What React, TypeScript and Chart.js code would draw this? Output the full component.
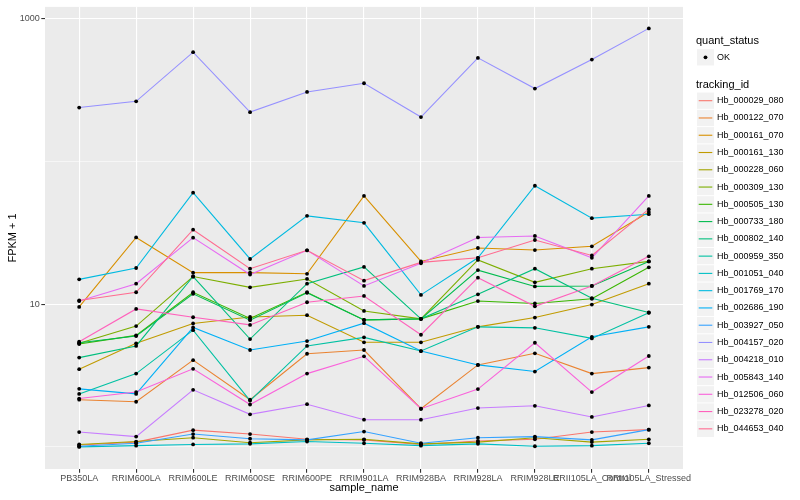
import React, { useEffect, useRef } from 'react';
import { Chart, registerables } from 'chart.js';

Chart.register(...registerables);

const sampleNames = [
  'PB350LA', 'RRIM600LA', 'RRIM600LE', 'RRIM600SE', 'RRIM600PE', 'RRIM901LA',
  'RRIM928BA', 'RRIM928LA', 'RRIM928LE', 'RRII105LA_Control', 'RRII105LA_Stressed',
];

const trackingIds = [
  'Hb_000029_080', 'Hb_000122_070', 'Hb_000161_070', 'Hb_000161_130', 'Hb_000228_060',
  'Hb_000309_130', 'Hb_000505_130', 'Hb_000733_180', 'Hb_000802_140', 'Hb_000959_350',
  'Hb_001051_040', 'Hb_001769_170', 'Hb_002686_190', 'Hb_003927_050', 'Hb_004157_020',
  'Hb_004218_010', 'Hb_005843_140', 'Hb_012506_060', 'Hb_023278_020', 'Hb_044653_040',
];

const lineColors = [
  '#F8766D', '#EA8331', '#D89000', '#C09B00', '#A3A500',
  '#7CAE00', '#39B600', '#00BB4E', '#00BF7D', '#00C1A3',
  '#00BFC4', '#00BAE0', '#00B0F6', '#35A2FF', '#9590FF',
  '#C77CFF', '#E76BF3', '#FA62DB', '#FF62BC', '#FF6C91',
];

// FPKM + 1 values per tracking id, in sampleNames order
const hb_000029_080 = [1.03, 1.08, 1.31, 1.23, 1.13, 1.12, 1.04, 1.10, 1.13, 1.27, 1.32];
const hb_000122_070 = [2.14, 2.07, 4.05, 2.14, 4.49, 4.77, 1.85, 3.75, 4.52, 3.26, 3.59];
const hb_000161_070 = [9.55, 29.3, 16.6, 16.6, 16.3, 57.2, 19.9, 24.7, 23.9, 25.4, 44.2];
const hb_000161_130 = [3.50, 5.31, 7.32, 8.13, 8.36, 5.40, 5.40, 6.93, 8.05, 9.92, 13.9];
const hb_000228_060 = [1.04, 1.09, 1.16, 1.07, 1.12, 1.13, 1.05, 1.08, 1.16, 1.08, 1.13];
const hb_000309_130 = [5.31, 7.01, 15.6, 13.1, 15.0, 8.95, 7.88, 20.4, 14.2, 17.7, 19.9];
const hb_000505_130 = [5.25, 6.04, 12.1, 7.93, 12.1, 7.75, 7.88, 10.5, 10.1, 10.9, 18.1];
const hb_000733_180 = [5.36, 5.97, 11.8, 7.71, 12.0, 7.75, 7.88, 17.3, 13.3, 13.4, 19.9];
const hb_000802_140 = [4.22, 5.09, 15.6, 5.69, 13.9, 18.2, 7.88, 11.7, 17.7, 11.0, 8.73];
const hb_000959_350 = [2.35, 3.26, 6.57, 2.11, 5.09, 5.85, 4.69, 6.93, 6.82, 5.75, 8.70];
const hb_001051_040 = [1.00, 1.02, 1.04, 1.05, 1.09, 1.06, 1.02, 1.05, 1.01, 1.02, 1.06];
const hb_001769_170 = [14.9, 17.9, 60.3, 20.7, 41.5, 37.1, 11.6, 21.1, 67.4, 40.0, 42.6];
const hb_002686_190 = [2.55, 2.35, 6.86, 4.77, 5.51, 7.35, 4.69, 3.75, 3.37, 5.90, 6.93];
const hb_003927_050 = [1.01, 1.06, 1.23, 1.14, 1.12, 1.28, 1.06, 1.16, 1.18, 1.12, 1.32];
const hb_004157_020 = [238, 263, 581, 221, 306, 352, 204, 530, 323, 516, 853];
const hb_004218_010 = [1.27, 1.18, 2.51, 1.69, 1.99, 1.55, 1.55, 1.87, 1.94, 1.62, 1.95];
const hb_005843_140 = [10.5, 13.9, 29.2, 16.1, 23.8, 13.4, 19.3, 29.3, 30.0, 21.1, 57.2];
const hb_012506_060 = [2.18, 2.42, 3.52, 1.98, 3.26, 4.31, 1.85, 2.54, 5.36, 2.42, 4.33];
const hb_023278_020 = [5.45, 9.25, 8.09, 7.15, 10.3, 11.4, 6.10, 15.3, 9.65, 13.4, 21.6];
const hb_044653_040 = [10.6, 12.1, 33.2, 17.7, 23.8, 14.6, 19.6, 21.1, 28.1, 21.9, 46.2];

const seriesValues = [
  hb_000029_080, hb_000122_070, hb_000161_070, hb_000161_130, hb_000228_060,
  hb_000309_130, hb_000505_130, hb_000733_180, hb_000802_140, hb_000959_350,
  hb_001051_040, hb_001769_170, hb_002686_190, hb_003927_050, hb_004157_020,
  hb_004218_010, hb_005843_140, hb_012506_060, hb_023278_020, hb_044653_040,
];

const quantStatus = ['OK'];
const yGridValues = [1, 10, 100, 1000];
const yLabelValues = [10, 1000];

const FONT = '"Liberation Sans", Arial, Helvetica, sans-serif';

const panelPlugin = {
  id: 'ggPanel',
  beforeDraw(chart: any) {
    const { ctx, chartArea } = chart;
    ctx.save();
    ctx.fillStyle = '#EBEBEB';
    ctx.fillRect(chartArea.left, chartArea.top, chartArea.right - chartArea.left, chartArea.bottom - chartArea.top);
    ctx.restore();
  },
};

const legendPlugin = {
  id: 'ggLegend',
  afterDraw(chart: any) {
    const ctx = chart.ctx;
    const keyX = 697;
    const keyW = 17;
    const keyH = 17.27;
    const textX = 717;
    ctx.save();
    ctx.textAlign = 'left';
    ctx.textBaseline = 'middle';
    ctx.fillStyle = '#000000';
    ctx.font = `11px ${FONT}`;
    ctx.fillText('quant_status', 696, 41);
    const okY = 57.3;
    ctx.fillStyle = '#F2F2F2';
    ctx.fillRect(keyX, okY - keyH / 2 + 0.5, keyW, keyH - 1);
    ctx.fillStyle = '#000000';
    ctx.beginPath();
    ctx.arc(keyX + keyW / 2, okY, 1.9, 0, Math.PI * 2);
    ctx.fill();
    ctx.font = `9px ${FONT}`;
    ctx.fillText(quantStatus[0], textX, okY);
    ctx.font = `11px ${FONT}`;
    ctx.fillText('tracking_id', 696, 84.5);
    trackingIds.forEach((id, i) => {
      const cy = 100.7 + i * keyH;
      ctx.fillStyle = '#F2F2F2';
      ctx.fillRect(keyX, cy - keyH / 2 + 0.5, keyW, keyH - 1);
      ctx.strokeStyle = lineColors[i];
      ctx.lineWidth = 1.1;
      ctx.beginPath();
      ctx.moveTo(keyX + 1.7, cy);
      ctx.lineTo(keyX + keyW - 1.7, cy);
      ctx.stroke();
      ctx.fillStyle = '#000000';
      ctx.font = `9px ${FONT}`;
      ctx.fillText(id, textX, cy);
    });
    ctx.restore();
  },
};

export default function App() {
  const canvasRef = useRef<HTMLCanvasElement | null>(null);

  useEffect(() => {
    if (!canvasRef.current) return;
    const lineDatasets = trackingIds.map((id, i) => ({
      label: id,
      data: seriesValues[i].map((v, j) => ({ x: j, y: v })),
      borderColor: lineColors[i],
      backgroundColor: lineColors[i],
      borderWidth: 1.1,
      pointRadius: 0,
      pointHoverRadius: 0,
      tension: 0,
      fill: false,
      order: trackingIds.length - i,
    }));
    const pointDataset = {
      label: 'quant_status: OK',
      data: seriesValues.flatMap((vals) => vals.map((v, j) => ({ x: j, y: v }))),
      showLine: false,
      borderColor: '#000000',
      backgroundColor: '#000000',
      pointRadius: 1.9,
      pointBorderWidth: 0,
      pointHoverRadius: 1.9,
      order: -1,
    };

    const chart = new Chart(canvasRef.current, {
      type: 'line',
      data: { datasets: [pointDataset as any, ...lineDatasets] },
      plugins: [panelPlugin, legendPlugin],
      options: {
        animation: false,
        responsive: false,
        devicePixelRatio: 1,
        events: [],
        layout: { padding: { top: 5, right: 117, left: 0, bottom: 0 } },
        plugins: {
          legend: { display: false },
          tooltip: { enabled: false },
        },
        scales: {
          x: {
            type: 'linear',
            min: -0.6,
            max: sampleNames.length - 1 + 0.6,
            afterBuildTicks: (scale: any) => {
              scale.ticks = sampleNames.map((_, i) => ({ value: i }));
            },
            afterFit: (scale: any) => {
              scale.height = 31;
            },
            border: { display: false },
            grid: {
              color: '#FFFFFF',
              lineWidth: 1.1,
              drawTicks: true,
              tickLength: 3.7,
              tickColor: '#333333',
              tickWidth: 1.1,
            },
            ticks: {
              autoSkip: false,
              maxRotation: 0,
              minRotation: 0,
              padding: 0,
              color: '#4D4D4D',
              font: { family: FONT, size: 9 },
              callback: (v: any) => sampleNames[v as number] ?? '',
            },
            title: {
              display: true,
              text: 'sample_name',
              color: '#000000',
              font: { family: FONT, size: 11 },
              padding: { top: 0, bottom: 5 },
            },
          },
          y: {
            type: 'logarithmic',
            min: 0.7085,
            max: 1206,
            afterBuildTicks: (scale: any) => {
              scale.ticks = yGridValues.map((v) => ({ value: v }));
            },
            afterFit: (scale: any) => {
              scale.width = 45;
            },
            border: { display: false },
            grid: {
              color: '#FFFFFF',
              lineWidth: (ctx: any) => (yLabelValues.includes(ctx.tick?.value) ? 1.1 : 0.55),
              drawTicks: true,
              tickLength: 3.7,
              tickColor: (ctx: any) => (yLabelValues.includes(ctx.tick?.value) ? '#333333' : 'rgba(0,0,0,0)'),
              tickWidth: 1.1,
            },
            ticks: {
              autoSkip: false,
              padding: 1.5,
              color: '#4D4D4D',
              font: { family: FONT, size: 9 },
              callback: (v: any) => (yLabelValues.includes(v as number) ? String(v) : ''),
            },
            title: {
              display: true,
              text: 'FPKM + 1',
              color: '#000000',
              font: { family: FONT, size: 11 },
              padding: { top: 6, bottom: 0 },
            },
          },
        },
      } as any,
    });
    return () => chart.destroy();
  }, []);

  return (
    <div style={{ position: 'fixed', left: 0, top: 0, width: 800, height: 500, background: '#FFFFFF' }}>
      <canvas ref={canvasRef} width={800} height={500} style={{ width: 800, height: 500, display: 'block' }} />
    </div>
  );
}
